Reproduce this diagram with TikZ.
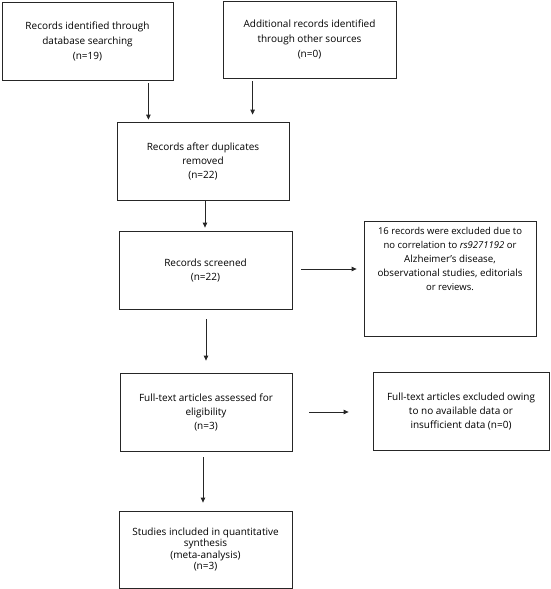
\documentclass[tikz,border=0pt]{standalone}
\usepackage{fontspec}
\setmainfont{Open Sans}
\usetikzlibrary{arrows.meta,calc}
\begin{document}
\begin{tikzpicture}[x=1pt,y=-1pt,
  box/.style={draw=black!85,line width=0.8pt,rectangle,inner sep=2pt,align=center,
    font=\fontsize{10}{15}\selectfont},
  arr/.style={draw=black!85,line width=0.8pt,-{Triangle[width=4.5pt,length=5pt]}}]
\useasboundingbox (0,0) rectangle (550,589);
\node[box,minimum width=171,minimum height=78] (b1) at (87.5,41)
  {Records identified through\\database searching\\(n=19)};
\node[box,minimum width=173,minimum height=77] (b2) at (309.5,39.5)
  {Additional records identified\\through other sources\\(n=0)};
\node[box,minimum width=172,minimum height=78,font=\fontsize{10}{14}\selectfont] (b3) at (203,161)
  {Records after duplicates\\removed\\(n=22)};
\node[box,minimum width=173,minimum height=78,font=\fontsize{10}{14}\selectfont] (b4) at (205.5,270)
  {Records screened\\(n=22)};
\node[box,minimum width=172,minimum height=115] (b5) at (450,278.5) {};
\node[align=center,inner sep=0pt,anchor=north,font=\fontsize{9.5}{14}\selectfont] (b5t) at ($(b5.north)+(0,6)$)
  {16 records were excluded due to\\no correlation to \textit{rs9271192} or\\
   {\fontsize{9.8}{14}\selectfont Alzheimer's disease,}\\
   {\fontsize{9.8}{14}\selectfont observational studies, editorials}\\or reviews.};
\node[box,minimum width=172,minimum height=78,font=\fontsize{10}{14}\selectfont] (b6) at (206,412)
  {Full-text articles assessed for\\eligibility\\(n=3)};
\node[box,minimum width=176,minimum height=78,font=\fontsize{10}{14}\selectfont] (b7) at (461,411)
  {Full-text articles excluded owing\\to no available data or\\insufficient data (n=0)};
\node[box,minimum width=173,minimum height=77,font=\fontsize{10}{11.2}\selectfont] (b8) at (205.5,549.5)
  {Studies included in quantitative\\synthesis\\(meta-analysis)\\(n=3)};
% arrows
\coordinate (a1) at ($(b1.south east)+(-25,3)$);
\draw[arr,shorten >=2pt] (a1) -- (a1 |- b3.north);
\coordinate (a2) at ($(b2.south west)+(30,3)$);
\draw[arr,shorten >=7pt] (a2) -- (a2 |- b3.north);
\coordinate (a3) at ($(b3.south)+(2,0)$);
\draw[arr,shorten >=3pt] (a3) -- (a3 |- b4.north);
\coordinate (a4) at ($(b4.south)+(0.5,10)$);
\draw[arr,shorten >=12pt] (a4) -- (a4 |- b6.north);
\coordinate (a5) at ($(b6.south)+(-3,6)$);
\draw[arr,shorten >=8pt] (a5) -- (a5 |- b8.north);
\coordinate (h1) at ($(b4.east)+(9,-1)$);
\draw[arr,shorten >=7pt] (h1) -- (h1 -| b5.west);
\coordinate (h2) at ($(b6.east)+(17,0)$);
\draw[arr,shorten >=24pt] (h2) -- (h2 -| b7.west);
\end{tikzpicture}
\end{document}
